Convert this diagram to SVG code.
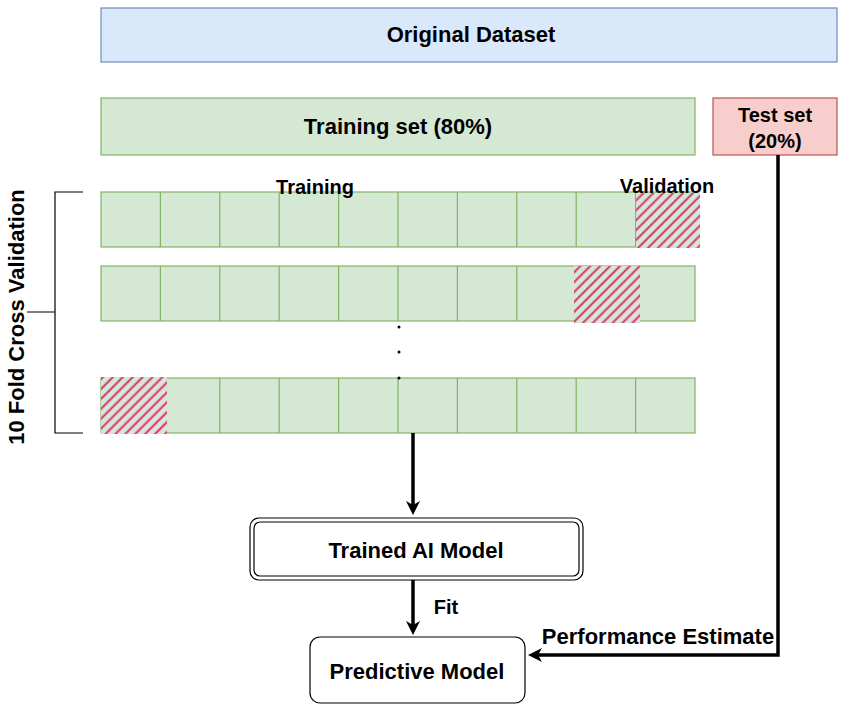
<svg xmlns="http://www.w3.org/2000/svg" width="850" height="710" viewBox="0 0 850 710">
<style>
text{font-family:"Liberation Sans",Arial,sans-serif;font-weight:bold;fill:#000}
.cell{fill:#d5e8d4;stroke:#82b366;stroke-width:1.2}
.hatch{fill:url(#hp);stroke:none}
.hbg{fill:#d5e8d4;stroke:none}
.conn{stroke:#000;stroke-width:3.5;fill:none}
.br{stroke:#000;stroke-width:1.2;fill:none}
</style>
<defs>
<pattern id="hp" width="7" height="7" patternUnits="userSpaceOnUse" patternTransform="rotate(-45)">
<line x1="0" y1="3.5" x2="7" y2="3.5" stroke="#e0196e" stroke-width="1.8"/>
</pattern>
<marker id="ah" markerWidth="14" markerHeight="14" refX="9" refY="7" orient="auto" markerUnits="userSpaceOnUse" viewBox="0 0 14 14">
<path d="M0,0 L14,7 L0,14 L4,7 Z" fill="#000"/>
</marker>
<g id="row">
<rect class="cell" x="101" y="0" width="594" height="55"/>
<path class="cell" d="M160.4,0V55M219.8,0V55M279.2,0V55M338.6,0V55M398,0V55M457.4,0V55M516.8,0V55M576.2,0V55M635.6,0V55"/>
</g>
</defs>
<g id="original-dataset">
<rect x="101" y="8" width="736" height="54" fill="#dae8fc" stroke="#6c8ebf" stroke-width="1.2"/>
<text x="471" y="42" text-anchor="middle" font-size="22">Original Dataset</text>
</g>
<g id="training-set">
<rect x="101" y="98" width="594" height="57" fill="#d5e8d4" stroke="#82b366" stroke-width="1.2"/>
<text x="398" y="134" text-anchor="middle" font-size="22">Training set (80%)</text>
</g>
<g id="test-set">
<rect x="713" y="98" width="124" height="57" fill="#f8cecc" stroke="#b85450" stroke-width="1.2"/>
<text x="775" y="122" text-anchor="middle" font-size="20">Test set</text>
<text x="775" y="148" text-anchor="middle" font-size="20">(20%)</text>
</g>
<g id="fold-1">
<use href="#row" y="192"/>
<rect class="hbg" x="636" y="193" width="64" height="55"/>
<rect class="hatch" x="636" y="193" width="64" height="55"/>
</g>
<g id="fold-2">
<use href="#row" y="266"/>
<rect class="hbg" x="574" y="266" width="66" height="57"/>
<rect class="hatch" x="574" y="266" width="66" height="57"/>
</g>
<g id="fold-10">
<use href="#row" y="378"/>
<rect class="hbg" x="101" y="377" width="66" height="57"/>
<rect class="hatch" x="101" y="377" width="66" height="57"/>
</g>
<g id="labels">
<text x="315" y="194" text-anchor="middle" font-size="20">Training</text>
<text x="667" y="193" text-anchor="middle" font-size="20">Validation</text>
<circle cx="399" cy="327" r="1.5" fill="#000"/>
<circle cx="399" cy="352" r="1.5" fill="#000"/>
<circle cx="399" cy="378" r="1.5" fill="#000"/>
</g>
<g id="cross-validation">
<path class="br" d="M83,192H55V433H83M55,312H27"/>
<text transform="translate(24,317) rotate(-90)" text-anchor="middle" font-size="22">10 Fold Cross Validation</text>
</g>
<g id="trained-model">
<rect x="250" y="518" width="333" height="62" rx="9" fill="#fff" stroke="#000" stroke-width="1.2"/>
<rect x="254" y="522" width="325" height="54" rx="6" fill="none" stroke="#000" stroke-width="1.2"/>
<text x="416" y="558" text-anchor="middle" font-size="22">Trained AI Model</text>
</g>
<g id="predictive-model">
<rect x="310" y="637" width="215" height="66" rx="10" fill="#fff" stroke="#000" stroke-width="1.2"/>
<text x="417" y="679" text-anchor="middle" font-size="22">Predictive Model</text>
</g>
<g id="connectors">
<path class="conn" d="M413,433V510" marker-end="url(#ah)"/>
<path class="conn" d="M413,580V630" marker-end="url(#ah)"/>
<path class="conn" d="M778,155V655H533" marker-end="url(#ah)"/>
<text x="446" y="614" text-anchor="middle" font-size="20">Fit</text>
<text x="658" y="644" text-anchor="middle" font-size="22">Performance Estimate</text>
</g>
</svg>
